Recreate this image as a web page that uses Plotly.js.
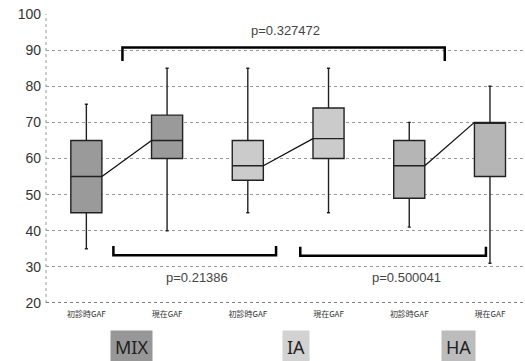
<!DOCTYPE html>
<html><head><meta charset="utf-8">
<script src="https://cdn.plot.ly/plotly-3.0.1.min.js"></script>
<style>html,body{margin:0;padding:0;background:#fff}#c{width:525px;height:361px}</style>
</head><body><div id="c"></div>
<script>
// categories / tick labels
const tickLabels = ["初診時GAF","現在GAF","初診時GAF","現在GAF","初診時GAF","現在GAF"];
const groups = ["MIX","IA","HA"];
// box statistics per category (index 0..5)
const q1     = [45, 60, 54, 60, 49, 55];
const median = [55, 65, 58, 65.5, 58, 70];
const q3     = [65, 72, 65, 74, 65, 70];
const lowerW = [35, 40, 45, 45, 41, 31];
const upperW = [75, 85, 85, 85, 70, 80];
// p-values
const pLabels = ["p=0.327472","p=0.21386","p=0.500041"];

const groupColors = ["#9a9a9a","#cbcbcb","#b5b5b5"];
const labelColors = ["#979797","#d2d2d2","#bcbcbc"];
const boxW = 0.385;

const traces = [];
groups.forEach((g, gi) => {
  const idx = [2*gi, 2*gi+1];
  traces.push({
    type: 'box', name: g, x: idx,
    q1: idx.map(i => q1[i]), median: idx.map(i => median[i]), q3: idx.map(i => q3[i]),
    lowerfence: idx.map(i => lowerW[i]), upperfence: idx.map(i => upperW[i]),
    width: boxW, whiskerwidth: 0.1,
    fillcolor: groupColors[gi], line: {color: '#222', width: 1.4},
    hoverinfo: 'skip', showlegend: false
  });
  // connecting line between medians (right edge of first box to left edge of second)
  traces.push({
    type: 'scatter', mode: 'lines',
    x: [idx[0] + boxW/2, idx[1] - boxW/2],
    y: [median[idx[0]], median[idx[1]]],
    line: {color: '#111', width: 1.3}, hoverinfo: 'skip', showlegend: false
  });
});

// brackets: [x0, x1, yLine, yTip]
const brackets = [[0.447, 4.44, 90.7, 87], [0.335, 2.35, 33.2, 35.8], [2.65, 4.95, 33.1, 35.6]];
const shapes = brackets.map(b => ({
  type: 'path', xref: 'x', yref: 'y',
  path: `M${b[0]},${b[3]} L${b[0]},${b[2]} L${b[1]},${b[2]} L${b[1]},${b[3]}`,
  line: {color: '#000', width: 2.5}
}));
shapes.push({type:'line', xref:'paper', yref:'paper', x0:0, x1:0, y0:0, y1:1, line:{color:'#999', width:1, dash:'dot'}});
shapes.push({type:'line', xref:'paper', yref:'y', x0:0, x1:1, y0:20, y1:20, line:{color:'#555', width:1.5, dash:'dot'}});

const pPos = [[2.47, 95.3], [1.365, 27.0], [3.96, 27.0]];
const annotations = pLabels.map((t, i) => ({
  x: pPos[i][0], y: pPos[i][1], xref: 'x', yref: 'y', text: t, showarrow: false,
  font: {family: 'Liberation Sans, Arial, sans-serif', size: 13, color: '#444'}
}));
const gPos = [0.565, 2.6, 4.61];
groups.forEach((g, i) => annotations.push({
  x: gPos[i], y: -0.095, xref: 'x', yref: 'paper', yanchor: 'top', text: g, showarrow: false,
  bgcolor: labelColors[i], borderpad: 4,
  font: {family: 'Noto Sans, Arial, sans-serif', size: 18, color: '#222'}
}));

const layout = {
  width: 525, height: 361,
  margin: {l: 46, r: 0, t: 14, b: 58},
  paper_bgcolor: '#fff', plot_bgcolor: '#fff',
  showlegend: false,
  xaxis: {
    range: [-0.5, 5.434], tickvals: [0,1,2,3,4,5], ticktext: tickLabels,
    showgrid: false, zeroline: false, showline: false, ticks: '', ticklabelstandoff: 5,
    tickfont: {family: 'Noto Sans CJK JP, sans-serif', size: 8, color: '#333'}
  },
  yaxis: {
    range: [20, 100], dtick: 10, tick0: 20,
    showgrid: true, gridcolor: '#999', griddash: 'dot', gridwidth: 1,
    zeroline: false, showline: false, ticks: '', ticklabelstandoff: 4,
    tickfont: {family: 'Liberation Sans, Arial, sans-serif', size: 14, color: '#333'}
  },
  shapes: shapes, annotations: annotations
};
Plotly.newPlot('c', traces, layout, {staticPlot: true, displayModeBar: false});
</script></body></html>
